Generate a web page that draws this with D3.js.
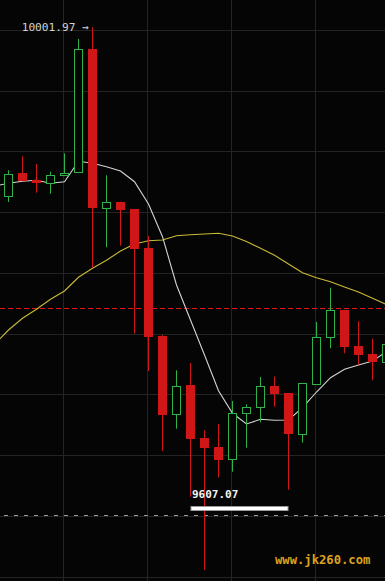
<!DOCTYPE html>
<html>
<head>
<meta charset="utf-8">
<script src="https://cdn.jsdelivr.net/npm/d3@7/dist/d3.min.js"></script>
<style>
  html, body { margin: 0; padding: 0; background: #050505; }
  svg { display: block; }
</style>
</head>
<body>
<div id="chart"></div>
<script>
// candle data, one entry per bar
var opens  = [9879.00, 9895.73, 9890.64, 9888.67, 9894.28, 9896.46, 9985.96, 9870.26, 9875.07, 9869.75,
              9841.38, 9777.34, 9720.37, 9741.69, 9703.12, 9696.57, 9687.62, 9721.09, 9725.46, 9740.96,
              9735.87, 9705.81, 9742.20, 9776.40, 9796.26, 9770.07, 9764.24, 9758.20];
var highs  = [9897.91, 9908.10, 9902.50, 9896.90, 9910.29, 9993.46, 10001.97, 9894.28, 9875.07, 9869.75,
              9850.11, 9778.07, 9752.38, 9757.70, 9708.72, 9713.31, 9730.04, 9727.64, 9747.51, 9747.73,
              9735.87, 9742.92, 9787.53, 9812.49, 9796.26, 9788.04, 9775.38, 9771.30];
var lows   = [9874.85, 9890.00, 9881.62, 9880.89, 9894.10, 9896.46, 9827.04, 9841.89, 9843.05, 9779.16,
              9751.87, 9693.66, 9709.89, 9660.41, 9607.07, 9674.52, 9678.60, 9696.06, 9714.55, 9725.90,
              9665.50, 9699.70, 9742.20, 9768.39, 9764.75, 9756.46, 9745.11, 9758.20];
var closes = [9895.00, 9890.13, 9888.16, 9894.28, 9895.73, 9985.96, 9869.97, 9874.63, 9869.25, 9840.87,
              9776.83, 9720.08, 9740.96, 9702.39, 9696.06, 9687.33, 9721.09, 9725.46, 9740.74, 9735.36,
              9706.25, 9742.92, 9776.40, 9796.04, 9769.56, 9763.30, 9758.64, 9771.30];

// moving averages, first value belongs to the bar before the first one shown
var maShort = [9886.49, 9888.46, 9889.91, 9890.64, 9888.46, 9889.62, 9904.46, 9903.01, 9900.53, 9897.41,
               9889.62, 9873.39, 9849.60, 9814.45, 9788.99, 9763.52, 9737.54, 9721.09, 9713.31, 9716.73,
               9716.00, 9716.22, 9725.17, 9736.59, 9747.00, 9753.11, 9756.24, 9759.15, 9765.92];
var maLong  = [9771.16, 9781.71, 9790.22, 9796.77, 9804.05, 9810.09, 9820.06, 9826.60, 9832.43, 9839.19,
               9844.29, 9846.69, 9847.20, 9850.33, 9851.05, 9851.56, 9852.07, 9850.11, 9846.11, 9841.16,
               9836.06, 9829.73, 9823.40, 9819.76, 9816.85, 9813.00, 9809.36, 9804.77, 9800.26];

var gridPrices = [9999.79, 9955.56, 9911.33, 9867.11, 9822.88, 9778.65, 9734.42, 9690.20, 9645.97, 9601.75];
var gridBars = [4, 10, 16, 22];
var priceLine = 9797.50;   // red dashed
var lowLine = 9646.70;     // grey dashed
var maxLabel = "10001.97";
var minLabel = "9607.07";
var watermark = "www.jk260.com";

var width = 385, height = 581;
var upColor = "#2fb349", downColor = "#d01616";

var svg = d3.select("#chart").append("svg")
    .attr("width", width)
    .attr("height", height)
    .style("background", "#050505");

var x = d3.scaleLinear().domain([0, 1]).range([8.5, 22.5]);
var y = d3.scaleLinear().domain([9607.07, 10001.97]).range([570, 27.3]);

// grid
svg.selectAll("line.hgrid")
    .data(gridPrices)
    .enter()
    .append("line")
    .attr("class", "hgrid")
    .attr("x1", 0).attr("x2", width)
    .attr("y1", function(d) { return Math.floor(y(d)) + 0.5; })
    .attr("y2", function(d) { return Math.floor(y(d)) + 0.5; })
    .attr("stroke", "#242424")
    .attr("stroke-width", 1);

svg.selectAll("line.vgrid")
    .data(gridBars)
    .enter()
    .append("line")
    .attr("class", "vgrid")
    .attr("x1", function(d) { return x(d) - 1; })
    .attr("x2", function(d) { return x(d) - 1; })
    .attr("y1", 0).attr("y2", height)
    .attr("stroke", "#242424")
    .attr("stroke-width", 1);

// dashed reference lines
svg.append("line")
    .attr("x1", 0).attr("x2", width)
    .attr("y1", Math.floor(y(priceLine)) + 0.5)
    .attr("y2", Math.floor(y(priceLine)) + 0.5)
    .attr("stroke", "#e01818")
    .attr("stroke-dasharray", "5,3");

svg.append("line")
    .attr("x1", 4).attr("x2", width)
    .attr("y1", Math.floor(y(lowLine)) + 0.5)
    .attr("y2", Math.floor(y(lowLine)) + 0.5)
    .attr("stroke", "#9a9a9a")
    .attr("stroke-dasharray", "4,6");

// moving average lines
var line = d3.line()
    .x(function(d, i) { return x(i - 1); })
    .y(function(d) { return y(d); });

svg.append("path")
    .datum(maLong)
    .attr("d", line)
    .attr("fill", "none")
    .attr("stroke", "#c9b936")
    .attr("stroke-width", 1.1);

svg.append("path")
    .datum(maShort)
    .attr("d", line)
    .attr("fill", "none")
    .attr("stroke", "#d4d4d4")
    .attr("stroke-width", 1.1);

// candles
var candles = svg.selectAll("g.candle")
    .data(opens)
    .enter()
    .append("g")
    .attr("class", "candle");

candles.append("line")
    .attr("x1", function(d, i) { return x(i); })
    .attr("x2", function(d, i) { return x(i); })
    .attr("y1", function(d, i) { return y(highs[i]); })
    .attr("y2", function(d, i) { return y(lows[i]); })
    .attr("stroke", function(d, i) { return closes[i] >= opens[i] ? upColor : downColor; })
    .attr("stroke-width", 1);

candles.append("rect")
    .attr("x", function(d, i) { return closes[i] >= opens[i] ? x(i) - 4 : x(i) - 4.5; })
    .attr("width", function(d, i) { return closes[i] >= opens[i] ? 8 : 9; })
    .attr("y", function(d, i) {
        var top = y(Math.max(opens[i], closes[i]));
        return closes[i] >= opens[i] ? Math.round(top) + 0.5 : Math.round(top);
    })
    .attr("height", function(d, i) {
        var h = Math.round(Math.abs(y(opens[i]) - y(closes[i])));
        return Math.max(h, 1);
    })
    .attr("fill", function(d, i) { return closes[i] >= opens[i] ? "#050505" : downColor; })
    .attr("stroke", function(d, i) { return closes[i] >= opens[i] ? upColor : "none"; })
    .attr("stroke-width", 1);

// max / min labels
var hiIdx = highs.indexOf(d3.max(highs));
var loIdx = lows.indexOf(d3.min(lows));

svg.append("text")
    .attr("x", x(hiIdx) - 3.5)
    .attr("y", y(highs[hiIdx]) + 4)
    .attr("text-anchor", "end")
    .attr("font-family", "DejaVu Sans Mono")
    .attr("font-size", 11.2)
    .attr("fill", "#d2d2d2")
    .text(maxLabel + " \u2192");

svg.append("text")
    .attr("x", x(loIdx) - 12.5)
    .attr("y", y(lows[loIdx]) - 72.5)
    .attr("font-family", "DejaVu Sans Mono")
    .attr("font-weight", "bold")
    .attr("font-size", 11)
    .attr("fill", "#f2f2f2")
    .text(minLabel);

svg.append("rect")
    .attr("x", x(loIdx) - 13.5)
    .attr("y", y(lows[loIdx]) - 63.5)
    .attr("width", 97)
    .attr("height", 4)
    .attr("fill", "#ffffff")
    .attr("stroke", "#9a9a9a")
    .attr("stroke-width", 1);

// watermark
svg.append("text")
    .attr("x", 275)
    .attr("y", 564)
    .attr("font-family", "DejaVu Sans Mono")
    .attr("font-weight", "bold")
    .attr("font-size", 12.2)
    .attr("fill", "#dca21e")
    .text(watermark);
</script>
</body>
</html>
